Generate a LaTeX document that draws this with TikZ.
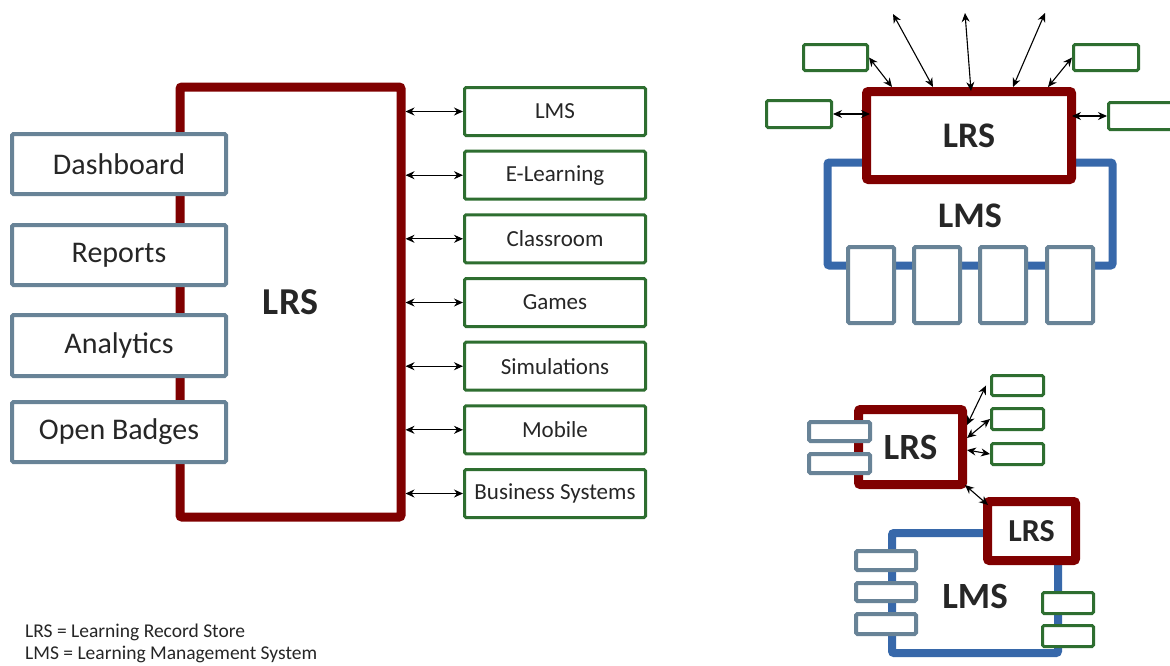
\documentclass[tikz,border=0pt]{standalone}
\usepackage{fontspec}
\setmainfont{Carlito}
\usetikzlibrary{arrows.meta,calc}
\definecolor{lrsred}{RGB}{128,0,0}
\definecolor{gbox}{RGB}{104,131,151}
\definecolor{grn}{RGB}{46,110,48}
\definecolor{lmsblue}{RGB}{55,104,170}
\definecolor{txt}{RGB}{38,38,38}
\tikzset{
 redbox/.style={draw=lrsred, line width=9pt, fill=white, rounded corners=2pt, inner sep=0pt, text=txt, font=\bfseries\fontsize{38}{40}\selectfont},
 graybox/.style={draw=gbox, line width=4pt, fill=white, rounded corners=1.5pt, inner sep=0pt, text=txt, font=\fontsize{30}{32}\selectfont},
 greenbox/.style={draw=grn, line width=3pt, fill=white, rounded corners=1.5pt, inner sep=0pt, text=txt, font=\fontsize{23}{25}\selectfont},
 bluebox/.style={draw=lmsblue, line width=8pt, rounded corners=2pt, inner sep=0pt},
 biglabel/.style={text=txt, font=\bfseries\fontsize{37}{39}\selectfont, inner sep=0pt},
 legend/.style={text=txt, font=\fontsize{19.5}{22}\selectfont, inner sep=0pt, anchor=base west},
 link/.style={{Stealth[length=9pt,width=8pt]}-{Stealth[length=9pt,width=8pt]}, line width=1.1pt, black},
}
\begin{document}
\begin{tikzpicture}[x=1pt,y=-1pt]
\clip (0,0) rectangle (1170,665);
\fill[white] (0,0) rectangle (1170,665);

% ---------- left diagram ----------
\node[redbox, minimum width=221pt, minimum height=430pt] (lrs) at (290.5,302) {LRS};
\node[graybox, minimum width=214pt, minimum height=60pt] (dash) at (119,164) {Dashboard};
\node[graybox, minimum width=214pt, minimum height=60pt] (rep) at (119,255) {Reports};
\node[graybox, minimum width=214pt, minimum height=61pt] (ana) at (119,345.5) {Analytics};
\node[graybox, minimum width=214pt, minimum height=60pt] (bad) at (119,432) {Open Badges};

\node[greenbox, minimum width=181pt, minimum height=48pt] (g1) at (555,111.5) {LMS};
\node[greenbox, minimum width=181pt, minimum height=48pt] (g2) at (555,175.2) {E-Learning};
\node[greenbox, minimum width=181pt, minimum height=48pt] (g3) at (555,238.8) {Classroom};
\node[greenbox, minimum width=181pt, minimum height=48pt] (g4) at (555,302.5) {Games};
\node[greenbox, minimum width=181pt, minimum height=48pt] (g5) at (555,366.2) {Simulations};
\node[greenbox, minimum width=181pt, minimum height=48pt] (g6) at (555,429.8) {Mobile};
\node[greenbox, minimum width=181pt, minimum height=48pt] (g7) at (555,493.5) {Business Systems};
\foreach \n in {g1,g2,g3,g4,g5,g6,g7}
  \draw[link] (lrs.east |- \n.west) -- (\n.west);

% ---------- top right diagram ----------
\node[bluebox, minimum width=285pt, minimum height=103pt] (lmsA) at (970,214) {};
\node[biglabel, font=\bfseries\fontsize{36}{38}\selectfont] (lmsAl) at (970,216) {LMS};
\node[redbox, font=\bfseries\fontsize{36}{38}\selectfont, minimum width=205pt, minimum height=88pt] (lrsA) at (969,135.5) {LRS};
\foreach \x/\n in {871/1,937/2,1003/3,1070/4}
  \node[graybox, minimum width=46pt, minimum height=76pt] (pA\n) at (\x,285) {};
\node[greenbox, minimum width=64pt, minimum height=26pt] (gA1) at (835.5,57.5) {};
\node[greenbox, minimum width=65pt, minimum height=27pt] (gA2) at (799,114) {};
\node[greenbox, minimum width=65pt, minimum height=26pt] (gA3) at (1106,57.5) {};
\node[greenbox, minimum width=65pt, minimum height=27pt] (gA4) at (1141,116) {};
\coordinate (u1) at (893,14);
\coordinate (u2) at (965,13);
\coordinate (u3) at (1045,13);
\draw[link] (gA1.east) -- ([xshift=30pt]lrsA.north west);
\draw[link] (u1) -- ([xshift=71pt]lrsA.north west);
\draw[link] (u2) -- ([xshift=109pt,yshift=-4pt]lrsA.north west);
\draw[link] (u3) -- ([xshift=151pt]lrsA.north west);
\draw[link] (gA3.west) -- ([xshift=186pt]lrsA.north west);
\draw[link] (gA2.east) -- ([xshift=8pt]gA2.east -| lrsA.west);
\draw[link] (gA4.west) -- ([xshift=-4pt]gA4.west -| lrsA.east);

% ---------- bottom right diagram ----------
\node[bluebox, minimum width=166pt, minimum height=120pt] (lmsB) at (975,593) {};
\node[biglabel] (lmsBl) at (975,596) {LMS};
\node[redbox, font=\bfseries\fontsize{32}{34}\selectfont, minimum width=88pt, minimum height=59pt] (lrsB2) at (1031.5,531) {LRS};
\node[redbox, font=\bfseries\fontsize{37}{39}\selectfont, minimum width=104pt, minimum height=75pt] (lrsB1) at (910.5,447) {LRS};
\node[graybox, minimum width=61pt, minimum height=19pt] (pB1) at (839.5,431.5) {};
\node[graybox, minimum width=61pt, minimum height=19pt] (pB2) at (839.5,463.5) {};
\node[greenbox, minimum width=52pt, minimum height=20pt] (gB1) at (1017.5,385.5) {};
\node[greenbox, minimum width=52pt, minimum height=21pt] (gB2) at (1017.5,419) {};
\node[greenbox, minimum width=52pt, minimum height=21pt] (gB3) at (1017.5,454) {};
\node[graybox, minimum width=60pt, minimum height=19pt] (pC1) at (886,560.5) {};
\node[graybox, minimum width=60pt, minimum height=18pt] (pC2) at (886,592) {};
\node[graybox, minimum width=60pt, minimum height=20pt] (pC3) at (886,624) {};
\node[greenbox, minimum width=51pt, minimum height=21pt] (gC1) at (1068,603) {};
\node[greenbox, minimum width=51pt, minimum height=21pt] (gC2) at (1068,636) {};
\draw[link] ([xshift=-4pt]gB1.west) -- ([yshift=22pt]lrsB1.east);
\draw[link] (gB2.west) -- ([yshift=9pt]lrsB1.east);
\draw[link] (gB3.west) -- ([yshift=-3pt]lrsB1.east);
\draw[link] ([xshift=-2pt,yshift=4pt]lrsB1.south east) -- ([xshift=5pt,yshift=-8pt]lrsB2.north west);

% ---------- legend ----------
\node[legend] (leg1) at (25,637) {LRS = Learning Record Store};
\node[legend] (leg2) at (25,659) {LMS = Learning Management System};
\end{tikzpicture}
\end{document}
